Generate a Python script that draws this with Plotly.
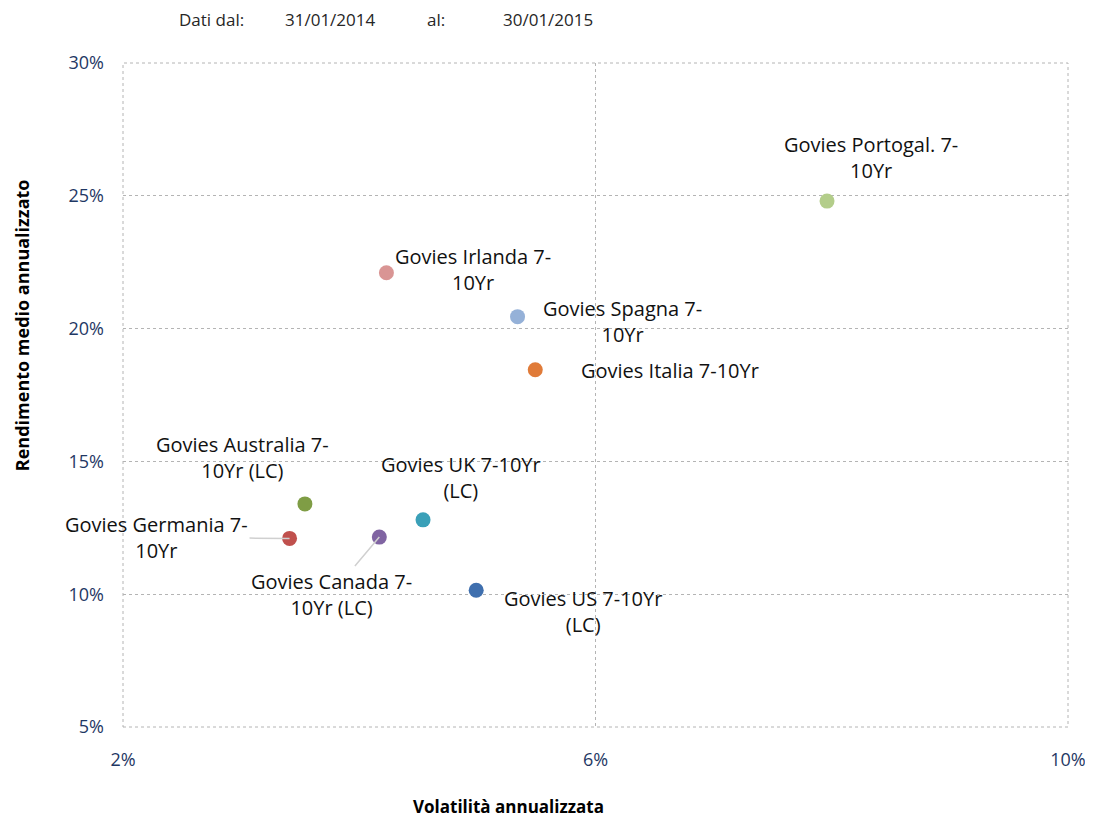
import plotly.graph_objects as go

# data (annualised volatility %, mean annualised return %)
names = ["Govies Portogal. 7-<br>10Yr", "Govies Irlanda 7-<br>10Yr", "Govies Spagna 7-<br>10Yr",
         "Govies Italia 7-10Yr", "Govies Australia 7-<br>10Yr (LC)", "Govies UK 7-10Yr<br>(LC)",
         "Govies Germania 7-<br>10Yr", "Govies Canada 7-<br>10Yr (LC)", "Govies US 7-10Yr<br>(LC)"]
volatility = [7.96, 4.23, 5.34, 5.49, 3.54, 4.54, 3.41, 4.17, 4.99]
returns = [24.8, 22.1, 20.45, 18.45, 13.4, 12.8, 12.1, 12.15, 10.15]
colors = ["#b3cd8a", "#d99594", "#95b1d8", "#e07b39", "#7f9d45", "#3aa0b8", "#c0504d", "#8064a2", "#3f6fae"]

x_ticks = [2, 6, 10]
x_ticklabels = ["2%", "6%", "10%"]
y_ticks = [5, 10, 15, 20, 25, 30]
y_ticklabels = ["5%", "10%", "15%", "20%", "25%", "30%"]

# label offsets in pixels (x, y up), and which labels have a leader line
label_dx = [44, 87, 105, 135, -62, 38, -133, -48, 107]
label_dy = [44, 3, -5, -1, 46, 42, 1, -57, -21]
leader = [False, False, False, False, False, False, True, True, False]

FONT = "Open Sans, Carlito, Calibri, sans-serif"
NAVY = "#1f3864"
GRID = "#b4b4b4"

fig = go.Figure()
fig.add_trace(go.Scatter(
    x=volatility, y=returns, mode="markers",
    marker=dict(size=15, color=colors, line=dict(width=0)),
    hoverinfo="skip", showlegend=False,
))

for i in range(len(names)):
    if leader[i]:
        fig.add_annotation(x=volatility[i], y=returns[i], text=names[i], showarrow=True,
                           ax=label_dx[i], ay=-label_dy[i], arrowhead=0, arrowwidth=1.5,
                           arrowcolor="#d0d0d0", standoff=0,
                           font=dict(family=FONT, size=20, color="#111111"), align="center")
    else:
        fig.add_annotation(x=volatility[i], y=returns[i], text=names[i], showarrow=False,
                           xshift=label_dx[i], yshift=label_dy[i],
                           font=dict(family=FONT, size=20, color="#111111"), align="center")

# header
header = [("Dati dal:", 0.094), ("31/01/2014", 0.220), ("al:", 0.331), ("30/01/2015", 0.450)]
for txt, xp in header:
    fig.add_annotation(xref="paper", yref="paper", x=xp, y=1.066, text=txt, showarrow=False,
                       xanchor="center", yanchor="middle",
                       font=dict(family=FONT, size=17, color="#262626"))

# axis titles
fig.add_annotation(xref="paper", yref="paper", x=0.408, y=-0.119, text="<b>Volatilità annualizzata</b>",
                   showarrow=False, xanchor="center", yanchor="middle",
                   font=dict(family=FONT, size=17, color="#000000"))
fig.add_annotation(xref="paper", yref="paper", x=-0.107, y=0.605, text="<b>Rendimento medio annualizzato</b>",
                   textangle=-90, showarrow=False, xanchor="center", yanchor="middle",
                   font=dict(family=FONT, size=18, color="#000000"))

# dotted frame around the plot area
fig.add_shape(type="rect", xref="paper", yref="paper", x0=0, y0=0, x1=1, y1=1,
              line=dict(color=GRID, width=1, dash="dot"), layer="below")

fig.update_xaxes(range=[2, 10], tickvals=x_ticks, ticktext=x_ticklabels, showgrid=True,
                 gridcolor=GRID, griddash="dot", gridwidth=1, zeroline=False, showline=False,
                 tickfont=dict(family=FONT, size=18, color=NAVY), ticklabelstandoff=20,
                 automargin=False, ticklabeloverflow="allow")
fig.update_yaxes(range=[5, 30], tickvals=y_ticks, ticktext=y_ticklabels, showgrid=True,
                 gridcolor=GRID, griddash="dot", gridwidth=1, zeroline=False, showline=False,
                 tickfont=dict(family=FONT, size=18, color=NAVY), ticklabelstandoff=18,
                 automargin=False)

# page body has an 8px margin, so the figure is shifted and shrunk accordingly
fig.update_layout(
    width=1077, height=810,
    margin=dict(l=115, r=17, t=55, b=91),
    plot_bgcolor="white", paper_bgcolor="white",
    font=dict(family=FONT),
)

fig.write_html("out.html")
